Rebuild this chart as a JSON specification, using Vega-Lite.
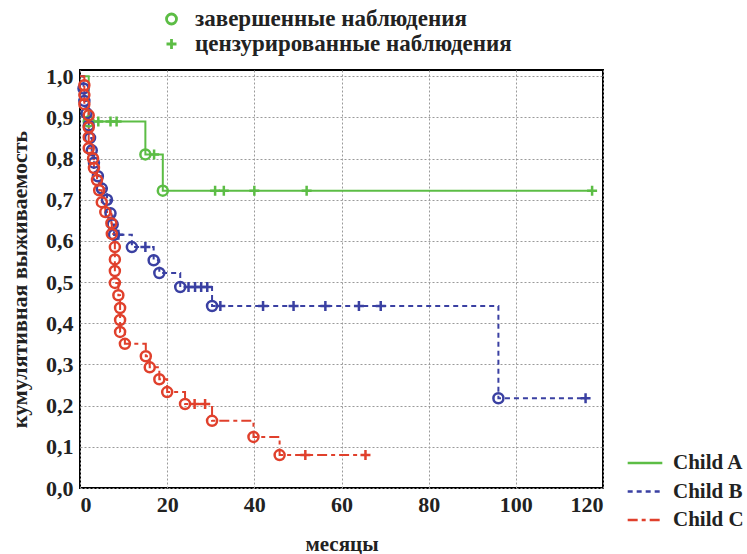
{
  "$schema": "https://vega.github.io/schema/vega-lite/v6.json",
  "width": 523,
  "height": 418,
  "autosize": {"type": "none"},
  "padding": {"left": 80, "top": 70, "right": 144, "bottom": 66},
  "background": "white",
  "config": {
    "font": "Liberation Serif",
    "view": {"stroke": "black", "strokeWidth": 2},
    "axis": {
      "labelFont": "Liberation Serif", "labelFontWeight": "bold", "labelFontSize": 22, "labelColor": "#222",
      "titleFont": "Liberation Serif", "titleFontWeight": "bold", "titleFontSize": 21, "titleColor": "#222",
      "domain": false, "ticks": false,
      "gridColor": "#9a9a9a", "gridDash": [2, 2], "gridWidth": 1, "gridOpacity": 1
    },
    "legend": {
      "labelFont": "Liberation Serif", "labelFontWeight": "bold", "labelFontSize": 21, "labelColor": "#222", "labelLimit": 0
    }
  },
  "data": {
    "values": [
      {"g": "Child A", "t": 0, "s": 1.0, "k": "start"},
      {"g": "Child A", "t": 2.0, "s": 0.89, "k": "завершенные наблюдения"},
      {"g": "Child A", "t": 4.2, "s": 0.89, "k": "цензурированные наблюдения"},
      {"g": "Child A", "t": 7.0, "s": 0.89, "k": "цензурированные наблюдения"},
      {"g": "Child A", "t": 8.4, "s": 0.89, "k": "цензурированные наблюдения"},
      {"g": "Child A", "t": 15.0, "s": 0.81, "k": "завершенные наблюдения"},
      {"g": "Child A", "t": 17.0, "s": 0.81, "k": "цензурированные наблюдения"},
      {"g": "Child A", "t": 19.0, "s": 0.722, "k": "завершенные наблюдения"},
      {"g": "Child A", "t": 31.0, "s": 0.722, "k": "цензурированные наблюдения"},
      {"g": "Child A", "t": 33.0, "s": 0.722, "k": "цензурированные наблюдения"},
      {"g": "Child A", "t": 40.0, "s": 0.722, "k": "цензурированные наблюдения"},
      {"g": "Child A", "t": 52.0, "s": 0.722, "k": "цензурированные наблюдения"},
      {"g": "Child A", "t": 117.5, "s": 0.722, "k": "цензурированные наблюдения"},

      {"g": "Child B", "t": 0, "s": 1.0, "k": "start"},
      {"g": "Child B", "t": 0.8, "s": 0.97, "k": "завершенные наблюдения"},
      {"g": "Child B", "t": 1.0, "s": 0.94, "k": "завершенные наблюдения"},
      {"g": "Child B", "t": 1.5, "s": 0.91, "k": "завершенные наблюдения"},
      {"g": "Child B", "t": 2.0, "s": 0.88, "k": "завершенные наблюдения"},
      {"g": "Child B", "t": 2.3, "s": 0.85, "k": "завершенные наблюдения"},
      {"g": "Child B", "t": 2.7, "s": 0.82, "k": "завершенные наблюдения"},
      {"g": "Child B", "t": 3.2, "s": 0.79, "k": "завершенные наблюдения"},
      {"g": "Child B", "t": 4.1, "s": 0.757, "k": "завершенные наблюдения"},
      {"g": "Child B", "t": 5.0, "s": 0.727, "k": "завершенные наблюдения"},
      {"g": "Child B", "t": 6.2, "s": 0.70, "k": "завершенные наблюдения"},
      {"g": "Child B", "t": 7.0, "s": 0.667, "k": "завершенные наблюдения"},
      {"g": "Child B", "t": 7.5, "s": 0.64, "k": "завершенные наблюдения"},
      {"g": "Child B", "t": 7.8, "s": 0.615, "k": "завершенные наблюдения"},
      {"g": "Child B", "t": 8.8, "s": 0.615, "k": "цензурированные наблюдения"},
      {"g": "Child B", "t": 11.9, "s": 0.585, "k": "завершенные наблюдения"},
      {"g": "Child B", "t": 15.0, "s": 0.585, "k": "цензурированные наблюдения"},
      {"g": "Child B", "t": 16.9, "s": 0.553, "k": "завершенные наблюдения"},
      {"g": "Child B", "t": 18.2, "s": 0.522, "k": "завершенные наблюдения"},
      {"g": "Child B", "t": 23.0, "s": 0.488, "k": "завершенные наблюдения"},
      {"g": "Child B", "t": 24.9, "s": 0.488, "k": "цензурированные наблюдения"},
      {"g": "Child B", "t": 26.4, "s": 0.488, "k": "цензурированные наблюдения"},
      {"g": "Child B", "t": 27.8, "s": 0.488, "k": "цензурированные наблюдения"},
      {"g": "Child B", "t": 29.2, "s": 0.488, "k": "цензурированные наблюдения"},
      {"g": "Child B", "t": 30.3, "s": 0.442, "k": "завершенные наблюдения"},
      {"g": "Child B", "t": 32.2, "s": 0.442, "k": "цензурированные наблюдения"},
      {"g": "Child B", "t": 42.0, "s": 0.442, "k": "цензурированные наблюдения"},
      {"g": "Child B", "t": 49.0, "s": 0.442, "k": "цензурированные наблюдения"},
      {"g": "Child B", "t": 56.3, "s": 0.442, "k": "цензурированные наблюдения"},
      {"g": "Child B", "t": 64.0, "s": 0.442, "k": "цензурированные наблюдения"},
      {"g": "Child B", "t": 69.0, "s": 0.442, "k": "цензурированные наблюдения"},
      {"g": "Child B", "t": 96.0, "s": 0.218, "k": "завершенные наблюдения"},
      {"g": "Child B", "t": 116.0, "s": 0.218, "k": "цензурированные наблюдения"},

      {"g": "Child C", "t": 0, "s": 1.0, "k": "start"},
      {"g": "Child C", "t": 1.0, "s": 0.978, "k": "завершенные наблюдения"},
      {"g": "Child C", "t": 1.0, "s": 0.954, "k": "завершенные наблюдения"},
      {"g": "Child C", "t": 1.0, "s": 0.932, "k": "завершенные наблюдения"},
      {"g": "Child C", "t": 2.0, "s": 0.905, "k": "завершенные наблюдения"},
      {"g": "Child C", "t": 2.0, "s": 0.876, "k": "завершенные наблюдения"},
      {"g": "Child C", "t": 2.0, "s": 0.852, "k": "завершенные наблюдения"},
      {"g": "Child C", "t": 2.0, "s": 0.825, "k": "завершенные наблюдения"},
      {"g": "Child C", "t": 3.0, "s": 0.80, "k": "завершенные наблюдения"},
      {"g": "Child C", "t": 3.2, "s": 0.777, "k": "завершенные наблюдения"},
      {"g": "Child C", "t": 3.9, "s": 0.748, "k": "завершенные наблюдения"},
      {"g": "Child C", "t": 4.4, "s": 0.723, "k": "завершенные наблюдения"},
      {"g": "Child C", "t": 5.0, "s": 0.694, "k": "завершенные наблюдения"},
      {"g": "Child C", "t": 5.8, "s": 0.67, "k": "завершенные наблюдения"},
      {"g": "Child C", "t": 7.2, "s": 0.643, "k": "завершенные наблюдения"},
      {"g": "Child C", "t": 7.3, "s": 0.617, "k": "завершенные наблюдения"},
      {"g": "Child C", "t": 8.0, "s": 0.585, "k": "завершенные наблюдения"},
      {"g": "Child C", "t": 8.0, "s": 0.555, "k": "завершенные наблюдения"},
      {"g": "Child C", "t": 8.0, "s": 0.527, "k": "завершенные наблюдения"},
      {"g": "Child C", "t": 8.0, "s": 0.498, "k": "завершенные наблюдения"},
      {"g": "Child C", "t": 8.8, "s": 0.468, "k": "завершенные наблюдения"},
      {"g": "Child C", "t": 9.2, "s": 0.437, "k": "завершенные наблюдения"},
      {"g": "Child C", "t": 9.2, "s": 0.408, "k": "завершенные наблюдения"},
      {"g": "Child C", "t": 9.2, "s": 0.379, "k": "завершенные наблюдения"},
      {"g": "Child C", "t": 10.3, "s": 0.35, "k": "завершенные наблюдения"},
      {"g": "Child C", "t": 15.1, "s": 0.32, "k": "завершенные наблюдения"},
      {"g": "Child C", "t": 16.0, "s": 0.293, "k": "завершенные наблюдения"},
      {"g": "Child C", "t": 18.2, "s": 0.264, "k": "завершенные наблюдения"},
      {"g": "Child C", "t": 20.0, "s": 0.233, "k": "завершенные наблюдения"},
      {"g": "Child C", "t": 24.1, "s": 0.204, "k": "завершенные наблюдения"},
      {"g": "Child C", "t": 26.3, "s": 0.204, "k": "цензурированные наблюдения"},
      {"g": "Child C", "t": 28.7, "s": 0.204, "k": "цензурированные наблюдения"},
      {"g": "Child C", "t": 30.3, "s": 0.163, "k": "завершенные наблюдения"},
      {"g": "Child C", "t": 39.8, "s": 0.124, "k": "завершенные наблюдения"},
      {"g": "Child C", "t": 45.8, "s": 0.08, "k": "завершенные наблюдения"},
      {"g": "Child C", "t": 51.7, "s": 0.08, "k": "цензурированные наблюдения"},
      {"g": "Child C", "t": 65.5, "s": 0.08, "k": "цензурированные наблюдения"}
    ]
  },
  "encoding": {
    "x": {
      "field": "t", "type": "quantitative",
      "scale": {"domain": [0, 120], "nice": false, "zero": false},
      "axis": {"values": [0, 20, 40, 60, 80, 100, 120], "title": "месяцы", "labelPadding": 6, "titlePadding": 18}
    },
    "y": {
      "field": "s", "type": "quantitative",
      "scale": {"domain": [0, 1.015], "nice": false},
      "axis": {
        "values": [0, 0.1, 0.2, 0.3, 0.4, 0.5, 0.6, 0.7, 0.8, 0.9, 1.0],
        "labelExpr": "replace(format(datum.value, '.1f'), '.', ',')",
        "title": "кумулятивная выживаемость", "titleFontSize": 22, "labelPadding": 7, "titlePadding": 14
      }
    }
  },
  "layer": [
    {
      "mark": {"type": "line", "interpolate": "step-after", "strokeWidth": 2},
      "encoding": {
        "color": {
          "field": "g", "type": "nominal",
          "scale": {"domain": ["Child A", "Child B", "Child C"], "range": ["#5cbd45", "#3a40a2", "#e0402c"]},
          "legend": {
            "title": null, "orient": "none", "legendX": 546, "legendY": 382,
            "symbolType": "stroke", "symbolSize": 1200, "symbolStrokeWidth": 2.5,
            "clipHeight": 22, "rowPadding": 6.5, "labelOffset": 9
          }
        },
        "strokeDash": {
          "field": "g", "type": "nominal",
          "scale": {"domain": ["Child A", "Child B", "Child C"], "range": [[1, 0], [5, 4], [10, 4, 4, 4]]},
          "legend": {
            "title": null, "orient": "none", "legendX": 546, "legendY": 382,
            "symbolType": "stroke", "symbolSize": 1200, "symbolStrokeWidth": 2.5,
            "clipHeight": 22, "rowPadding": 6.5, "labelOffset": 9
          }
        },
        "order": [{"field": "t", "type": "quantitative"}, {"field": "s", "type": "quantitative", "sort": "descending"}]
      }
    },
    {
      "transform": [{"filter": "datum.k != 'start'"}],
      "mark": {"type": "point", "filled": false, "size": 100, "strokeWidth": 2.5, "opacity": 1},
      "encoding": {
        "stroke": {
          "field": "g", "type": "nominal",
          "scale": {"domain": ["Child A", "Child B", "Child C"], "range": ["#5cbd45", "#3a40a2", "#e0402c"]},
          "legend": null
        },
        "shape": {
          "field": "k", "type": "nominal",
          "scale": {"domain": ["завершенные наблюдения", "цензурированные наблюдения"], "range": ["circle", "M-1,0H1M0,-1V1"]},
          "legend": {
            "title": null, "orient": "none", "legendX": 80, "legendY": -62,
            "symbolStrokeColor": "#5cbd45", "symbolStrokeWidth": 2.8,
            "labelFontSize": 23, "clipHeight": 22, "rowPadding": 2, "labelOffset": 12
          }
        }
      }
    }
  ]
}
